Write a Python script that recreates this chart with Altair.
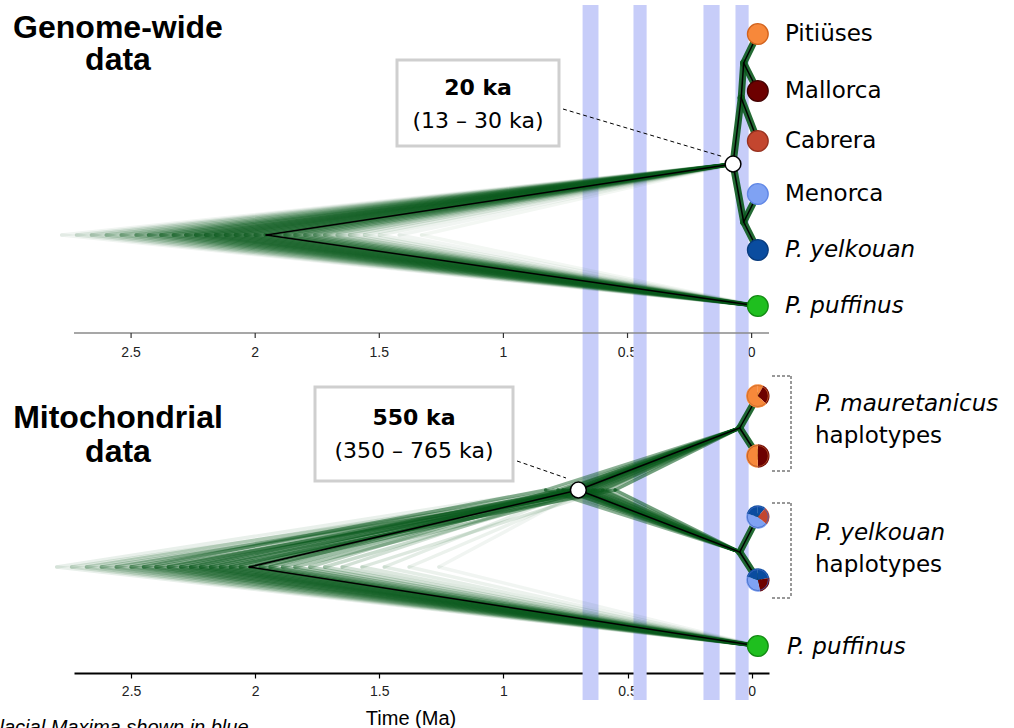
import altair as alt
import pandas as pd

# ---------------- data ----------------
# Glacial maxima bands (Ma)
glacial_start = [0.681, 0.476, 0.194, 0.065]
glacial_end = [0.617, 0.423, 0.129, 0.012]

tick_values = [2.5, 2.0, 1.5, 1.0, 0.5, 0.0]
tick_labels = ["2.5", "2", "1.5", "1", "0.5", "0"]

# Genome-wide consensus tree: node age (Ma) and vertical row position
gw_names = ["root", "A", "C", "D", "E", "Pit", "Mal", "Cab", "Men", "Yel", "Puf"]
gw_age = [1.956, 0.075, 0.042, 0.032, 0.032, -0.025, -0.025, -0.025, -0.025, -0.025, -0.025]
gw_row = [235, 164, 98, 63, 222, 34, 91, 141, 194, 250, 306]
gw_edges = [("root", "A"), ("root", "Puf"), ("A", "C"), ("C", "D"), ("D", "Pit"), ("D", "Mal"),
            ("C", "Cab"), ("A", "E"), ("E", "Men"), ("E", "Yel")]
gw_crown = [("A", "C"), ("C", "D"), ("D", "Pit"), ("D", "Mal"), ("C", "Cab"), ("A", "E"),
            ("E", "Men"), ("E", "Yel")]
gw_tip_keys = ["Pit", "Mal", "Cab", "Men", "Yel", "Puf"]
gw_tip_labels = ["Pitiüses", "Mallorca", "Cabrera", "Menorca", "P. yelkouan", "P. puffinus"]
gw_tip_italic = [False, False, False, False, True, True]

# Genome-wide posterior cloud: sampled root ages and their weight
gw_cloud_root = [2.78, 2.72, 2.66, 2.60, 2.54, 2.48, 2.43, 2.38, 2.33, 2.28, 2.24, 2.20, 2.16, 2.12,
                 2.08, 2.04, 2.00, 1.96, 1.92, 1.88, 1.84, 1.80, 1.76, 1.72, 1.67, 1.62, 1.56, 1.50,
                 1.42, 1.33]
gw_cloud_alpha = [0.06, 0.10, 0.16, 0.22, 0.28, 0.34, 0.40, 0.45, 0.49, 0.52, 0.54, 0.55, 0.56, 0.56,
                  0.56, 0.56, 0.55, 0.53, 0.50, 0.46, 0.42, 0.37, 0.31, 0.25, 0.20, 0.15, 0.11, 0.08,
                  0.06, 0.05]

# Mitochondrial consensus tree
mt_names = ["root", "M", "P", "Y", "m1", "m2", "y1", "y2", "Puf"]
mt_age = [2.024, 0.698, 0.048, 0.048, -0.025, -0.025, -0.025, -0.025, -0.025]
mt_row = [567, 490, 428, 552, 396, 456, 517, 580, 646]
mt_edges = [("root", "M"), ("root", "Puf"), ("M", "P"), ("M", "Y"), ("P", "m1"), ("P", "m2"),
            ("Y", "y1"), ("Y", "y2")]
mt_crown = [("P", "m1"), ("P", "m2"), ("Y", "y1"), ("Y", "y2")]

# Mitochondrial posterior cloud: root ages, split ages and weight
mt_cloud_root = [2.80, 2.74, 2.68, 2.62, 2.56, 2.50, 2.45, 2.40, 2.35, 2.30, 2.26, 2.22, 2.18, 2.14,
                 2.10, 2.06, 2.02, 1.98, 1.94, 1.89, 1.84, 1.78, 1.72, 1.65, 1.57, 1.48, 1.38, 1.26]
mt_cloud_split = [0.80, 0.62, 0.74, 0.58, 0.70, 0.66, 0.83, 0.60, 0.72, 0.68, 0.76, 0.64, 0.70, 0.55,
                  0.73, 0.67, 0.71, 0.63, 0.78, 0.69, 0.61, 0.75, 0.66, 0.72, 0.59, 0.70, 0.65, 0.68]
mt_cloud_alpha = [0.09, 0.14, 0.21, 0.28, 0.35, 0.42, 0.47, 0.52, 0.55, 0.58, 0.58, 0.58, 0.58, 0.58,
                  0.58, 0.57, 0.55, 0.51, 0.46, 0.40, 0.34, 0.28, 0.22, 0.18, 0.14, 0.11, 0.08, 0.06]

# Haplotype pies: composition by population (from 12 o'clock, clockwise)
mt_pie_tips = ["m1", "m2", "y1", "y2"]
mt_pie_parts = [
    [("Pit", 0.08), ("Mal", 0.29), ("Pit", 0.63)],
    [("Mal", 0.50), ("Pit", 0.50)],
    [("Yel", 0.11), ("Cab", 0.25), ("Men", 0.44), ("Yel", 0.20)],
    [("Yel", 0.22), ("Mal", 0.25), ("Men", 0.33), ("Yel", 0.20)],
]
mt_pie_outline = ["#c96a2a", "#b0582a", "#3f66c0", "#3f66c0"]

FILL = {"Pit": "#f7883a", "Mal": "#6d0000", "Cab": "#c3462f", "Men": "#7fa2f3",
        "Yel": "#0a4c9f", "Puf": "#1fbf1f"}
EDGE = {"Pit": "#d2621c", "Mal": "#420000", "Cab": "#97301e", "Men": "#5f86e6",
        "Yel": "#073a7c", "Puf": "#118a11"}

# ---------------- layout ----------------
OX, OY = 74, 5          # plot origin on the page
W, H = 695, 668
XS = alt.Scale(domain=[-0.07, 2.73], reverse=True, zero=False, nice=False)
YS = alt.Scale(domain=[5, 673], reverse=True, zero=False, nice=False)
XAX = alt.Axis(values=tick_values, format="~g", title=None, grid=False,
               domainColor="black", domainWidth=1.8, tickColor="black",
               tickSize=5, tickWidth=1.2, labelFont="Liberation Sans",
               labelFontSize=14, labelColor="#222", labelPadding=6)
GREEN = "#0b5a1d"
one = pd.DataFrame({"k": [0]})


def X(f):
    return alt.X(f, scale=XS, axis=XAX)


def Y(f):
    return alt.Y(f, scale=YS, axis=None)


def seg_records(names, ages, rows, edges, width, alpha, color):
    pos = {n: (a, r) for n, a, r in zip(names, ages, rows)}
    return [dict(t1=pos[p][0], r1=pos[p][1], t2=pos[c][0], r2=pos[c][1], w=width, a=alpha, col=color)
            for p, c in edges]


gw_pos = {n: (a, r) for n, a, r in zip(gw_names, gw_age, gw_row)}
mt_pos = {n: (a, r) for n, a, r in zip(mt_names, mt_age, mt_row)}

LW = 3.4
cloud = []
for ra, al in zip(gw_cloud_root, gw_cloud_alpha):
    root = (ra, gw_pos["root"][1])
    for tgt in ["A", "Puf"]:
        cloud.append(dict(t1=root[0], r1=root[1], t2=gw_pos[tgt][0], r2=gw_pos[tgt][1], w=LW, a=al, col=GREEN))
for ra, sa, al in zip(mt_cloud_root, mt_cloud_split, mt_cloud_alpha):
    root = (ra, mt_pos["root"][1])
    split = (sa, mt_pos["M"][1])
    cloud.append(dict(t1=root[0], r1=root[1], t2=split[0], r2=split[1], w=LW, a=al, col=GREEN))
    cloud.append(dict(t1=root[0], r1=root[1], t2=mt_pos["Puf"][0], r2=mt_pos["Puf"][1], w=LW, a=al, col=GREEN))
    for tgt in ["P", "Y"]:
        cloud.append(dict(t1=split[0], r1=split[1], t2=mt_pos[tgt][0], r2=mt_pos[tgt][1], w=LW, a=al, col=GREEN))

glow = seg_records(gw_names, gw_age, gw_row, gw_crown, 7, 0.9, GREEN) + \
    seg_records(mt_names, mt_age, mt_row, mt_crown, 7, 0.9, GREEN)
cons = seg_records(gw_names, gw_age, gw_row, gw_edges, 1.5, 1.0, "black") + \
    seg_records(mt_names, mt_age, mt_row, mt_edges, 1.5, 1.0, "black")
seg_df = pd.DataFrame(cloud + glow + cons)


def segs(df):
    return alt.Chart(df).mark_rule(strokeCap="round").encode(
        x=X("t1:Q"), x2="t2:Q", y=Y("r1:Q"), y2="r2:Q",
        color=alt.Color("col:N", scale=None),
        strokeWidth=alt.StrokeWidth("w:Q", scale=None),
        strokeOpacity=alt.StrokeOpacity("a:Q", scale=None))


def txt(s, x, y, size, font="DejaVu Sans", weight="normal", style="normal", align="left",
        baseline="alphabetic", color="black"):
    return alt.Chart(one).mark_text(text=s, fontSize=size, font=font, fontWeight=weight,
                                    fontStyle=style, align=align, baseline=baseline, color=color
                                    ).encode(x=alt.value(x - OX), y=alt.value(y - OY))


def line(x1, y1, x2, y2, color="black", width=1.0, dash=None):
    kw = dict(color=color, strokeWidth=width)
    if dash:
        kw["strokeDash"] = dash
    return alt.Chart(one).mark_rule(**kw).encode(
        x=alt.value(x1 - OX), x2=alt.value(x2 - OX), y=alt.value(y1 - OY), y2=alt.value(y2 - OY))


def box(x1, y1, x2, y2):
    return alt.Chart(one).mark_rect(fill="white", stroke="#cfcfcf", strokeWidth=3).encode(
        x=alt.value(x1 - OX), x2=alt.value(x2 - OX), y=alt.value(y1 - OY), y2=alt.value(y2 - OY))


# bands carry the bottom time axis
bands = alt.Chart(pd.DataFrame({"s": glacial_start, "e": glacial_end})).mark_rect(color="#c7cdf9").encode(
    x=X("s:Q"), x2="e:Q", y=alt.value(0), y2=alt.value(700 - OY))

# top (genome-wide) axis drawn as marks
top_ticks = pd.DataFrame({"t": tick_values, "lab": tick_labels})
top_axis_line = alt.Chart(pd.DataFrame({"t1": [2.73], "t2": [-0.07]})).mark_rule(
    color="#8a8a8a", strokeWidth=1.5).encode(x=X("t1:Q"), x2="t2:Q", y=alt.value(333 - OY))
top_axis_ticks = alt.Chart(top_ticks).mark_rule(color="#333", strokeWidth=1.2).encode(
    x=X("t:Q"), y=alt.value(333 - OY), y2=alt.value(338 - OY))
top_axis_labels = alt.Chart(top_ticks).mark_text(font="Liberation Sans", fontSize=14, color="#222",
                                                 baseline="alphabetic").encode(
    x=X("t:Q"), y=alt.value(357 - OY), text="lab:N")

# node circles
nodes = pd.DataFrame({"t": [gw_pos["A"][0], mt_pos["M"][0]], "r": [gw_pos["A"][1], mt_pos["M"][1]]})
node_marks = alt.Chart(nodes).mark_circle(size=250, color="white", opacity=1, stroke="black",
                                          strokeWidth=1.5).encode(x=X("t:Q"), y=Y("r:Q"))

# tip circles
tips = pd.DataFrame({
    "t": [gw_pos[k][0] for k in gw_tip_keys] + [mt_pos["Puf"][0]],
    "r": [gw_pos[k][1] for k in gw_tip_keys] + [mt_pos["Puf"][1]],
    "fill": [FILL[k] for k in gw_tip_keys] + [FILL["Puf"]],
    "edge": [EDGE[k] for k in gw_tip_keys] + [EDGE["Puf"]],
})
tip_marks = alt.Chart(tips).mark_circle(size=430, opacity=1, strokeWidth=1.3).encode(
    x=X("t:Q"), y=Y("r:Q"),
    color=alt.Color("fill:N", scale=None), stroke=alt.Stroke("edge:N", scale=None))

# pies
pie_rows = []
for tip, parts in zip(mt_pie_tips, mt_pie_parts):
    acc = 0.0
    for key, frac in parts:
        pie_rows.append(dict(t=mt_pos[tip][0], r=mt_pos[tip][1], a0=acc * 6.283185, a1=(acc + frac) * 6.283185,
                             col=FILL[key]))
        acc += frac
pie_marks = alt.Chart(pd.DataFrame(pie_rows)).mark_arc(outerRadius=11.7).encode(
    x=X("t:Q"), y=Y("r:Q"),
    theta=alt.Theta("a0:Q", scale=None), theta2=alt.Theta2("a1:Q"),
    color=alt.Color("col:N", scale=None))
pie_outline = alt.Chart(pd.DataFrame({
    "t": [mt_pos[k][0] for k in mt_pie_tips], "r": [mt_pos[k][1] for k in mt_pie_tips],
    "edge": mt_pie_outline})).mark_point(shape="circle", filled=False, size=440, strokeWidth=0.8, opacity=1).encode(
    x=X("t:Q"), y=Y("r:Q"), stroke=alt.Stroke("edge:N", scale=None))

# tip labels (genome-wide)
lab_df = pd.DataFrame({"r": [gw_pos[k][1] for k in gw_tip_keys], "lab": gw_tip_labels,
                       "it": ["italic" if i else "normal" for i in gw_tip_italic]})
gw_labels_plain = alt.Chart(lab_df[lab_df.it == "normal"]).mark_text(
    font="DejaVu Sans", fontSize=23, align="left", baseline="middle", color="black").encode(
    x=alt.value(785 - OX), y=Y("r:Q"), text="lab:N")
gw_labels_it = alt.Chart(lab_df[lab_df.it == "italic"]).mark_text(
    font="DejaVu Sans", fontSize=23, fontStyle="italic", align="left", baseline="middle", color="black").encode(
    x=alt.value(785 - OX), y=Y("r:Q"), text="lab:N")

layers = [
    top_axis_labels,
    bands,
    top_axis_line, top_axis_ticks,
    segs(seg_df),
    line(563, 109, 724, 157, dash=[4, 3]),
    line(517, 461, 566, 478, dash=[4, 3]),
    node_marks, tip_marks, pie_marks, pie_outline,
    gw_labels_plain, gw_labels_it,
    # brackets
    line(772, 376, 791, 376, color="#333", dash=[3, 2]),
    line(791, 376, 791, 471, color="#333", dash=[3, 2]),
    line(772, 471, 791, 471, color="#333", dash=[3, 2]),
    line(772, 503, 791, 503, color="#333", dash=[3, 2]),
    line(791, 503, 791, 598, color="#333", dash=[3, 2]),
    line(772, 598, 791, 598, color="#333", dash=[3, 2]),
    # right-side labels (mitochondrial)
    txt("P. mauretanicus", 815, 404, 23, style="italic", baseline="middle"),
    txt("haplotypes", 815, 436, 23, baseline="middle"),
    txt("P. yelkouan", 815, 533, 23, style="italic", baseline="middle"),
    txt("haplotypes", 815, 565, 23, baseline="middle"),
    txt("P. puffinus", 787, 647, 23, style="italic", baseline="middle"),
    # panel titles
    txt("Genome-wide", 118, 38, 32, font="Liberation Sans", weight="bold", align="center"),
    txt("data", 118, 70, 32, font="Liberation Sans", weight="bold", align="center"),
    txt("Mitochondrial", 118, 428, 32, font="Liberation Sans", weight="bold", align="center"),
    txt("data", 118, 462, 32, font="Liberation Sans", weight="bold", align="center"),
    # annotation boxes
    box(397, 60, 559, 146),
    txt("20 ka", 478, 95, 22, weight="bold", align="center"),
    txt("(13 – 30 ka)", 478, 128, 22, align="center"),
    box(315, 387, 513, 481),
    txt("550 ka", 414, 425, 22, weight="bold", align="center"),
    txt("(350 – 765 ka)", 414, 458, 22, align="center"),
    # axis title and footnote
    txt("Time (Ma)", 411, 725, 20, font="Liberation Sans", align="center"),
    txt("Glacial Maxima shown in blue", -16, 734, 20, font="Liberation Sans", style="italic"),
]

chart = alt.layer(*layers).properties(
    width=W, height=H,
    autosize=alt.AutoSizeParams(type="none"),
    padding={"left": OX, "top": OY, "right": 1014 - OX - W, "bottom": 728 - OY - H},
).configure_view(stroke=None)

chart.save("out.html", embed_options={"renderer": "svg", "actions": False})
